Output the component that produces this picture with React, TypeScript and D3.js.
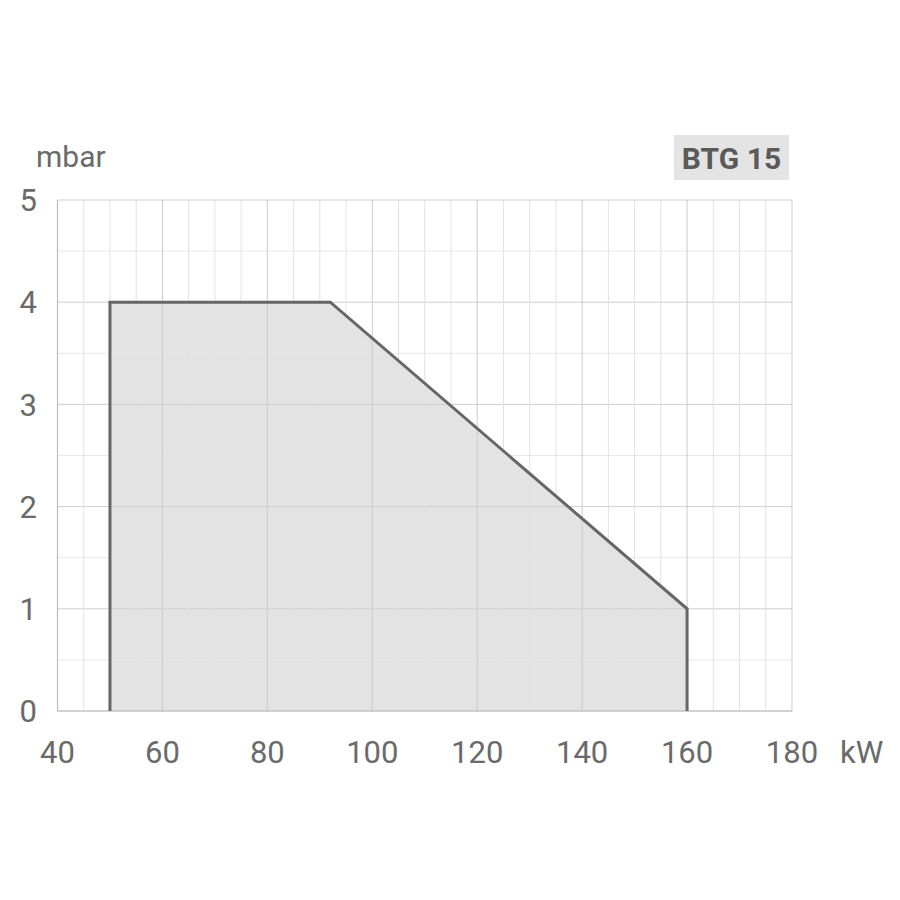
import React from "react";
import * as d3 from "d3";

const xTicks = [40, 60, 80, 100, 120, 140, 160, 180];
const yTicks = [0, 1, 2, 3, 4, 5];
const curveX = [50, 50, 92, 160, 160];
const curveY = [0, 4, 4, 1, 0];
const title = "BTG 15";
const yUnit = "mbar";
const xUnit = "kW";

export default function App() {
  const W = 900, H = 900;
  const x = d3.scaleLinear().domain([40, 180]).range([57.5, 792]);
  const y = d3.scaleLinear().domain([0, 5]).range([711, 200]);
  const pts: [number, number][] = curveX.map((v, i) => [v, curveY[i]]);
  const area = d3.line<[number, number]>().x(d => x(d[0])).y(d => y(d[1]));
  const minorX = d3.range(40, 180.1, 5);
  const minorY = d3.range(0, 5.01, 0.5);
  const font = "Roboto, 'DejaVu Sans', sans-serif";
  const col = "#6a6a6a";
  return (
    <svg width={W} height={H} style={{ position: "absolute", left: 0, top: 0, background: "#fff" }}>
      <rect x={0} y={0} width={W} height={H} fill="#fff" />
      {/* fill */}
      <path d={area(pts) + "Z"} fill="#e3e3e3" stroke="none" />
      {/* grid */}
      {minorY.map(v => (
        <line key={"gy" + v} x1={x(40)} x2={x(180)} y1={y(v)} y2={y(v)}
          stroke={Number.isInteger(v) ? "#cfcfcf" : "#e8e8e8"} strokeWidth={1} />
      ))}
      {minorX.map(v => (
        <line key={"gx" + v} x1={x(v)} x2={x(v)} y1={y(0)} y2={y(5)}
          stroke={v % 20 === 0 ? "#cbcbcb" : "#e2e2e2"} strokeWidth={1} />
      ))}
      {/* axes frame left & bottom */}
      <line x1={x(40)} x2={x(40)} y1={y(0)} y2={y(5)} stroke="#bdbdbd" strokeWidth={1.2} />
      <line x1={x(40)} x2={x(180)} y1={y(0)} y2={y(0)} stroke="#bdbdbd" strokeWidth={1.2} />
      {/* curve */}
      <path d={area(pts) ?? ""} fill="none" stroke="#666" strokeWidth={3} strokeLinejoin="miter" />
      {/* y tick labels */}
      {yTicks.map(v => (
        <text key={"yt" + v} x={37} y={y(v)} dy="0.36em" textAnchor="end"
          fontFamily={font} fontSize={31} fill={col}>{v}</text>
      ))}
      {xTicks.map(v => (
        <text key={"xt" + v} x={x(v)} y={763} textAnchor="middle"
          fontFamily={font} fontSize={31} fill={col}>{v}</text>
      ))}
      <text x={36} y={167} fontFamily={font} fontSize={30} fill={col}>{yUnit}</text>
      <text x={840} y={763} fontFamily={font} fontSize={31} fill={col}>{xUnit}</text>
      <rect x={674} y={135} width={115} height={45} fill="#e4e4e4" />
      <text x={731.5} y={169} textAnchor="middle" fontFamily={font} fontWeight="bold"
        fontSize={30} fill="#5a5a5a">{title}</text>
    </svg>
  );
}
